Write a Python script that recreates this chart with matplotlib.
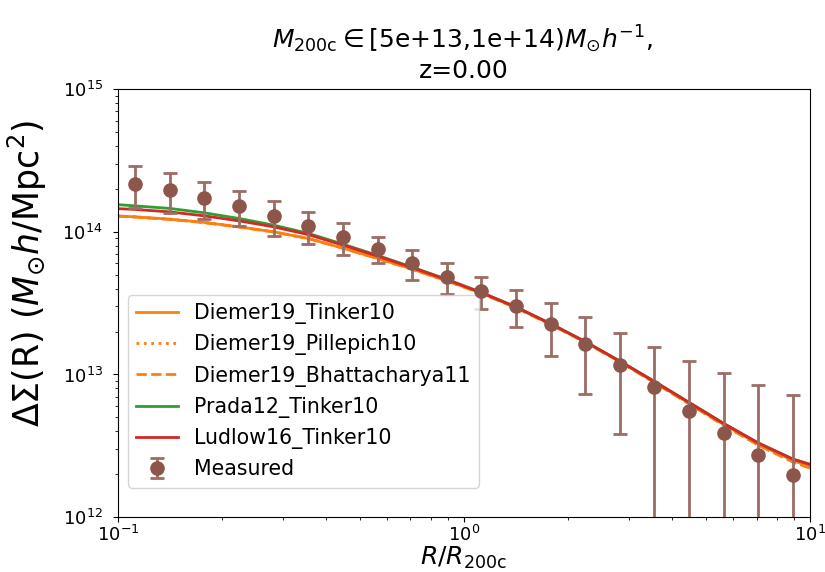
import matplotlib
matplotlib.use("Agg")
import matplotlib.pyplot as plt
import numpy as np

# radial bins, R / R200c
r_meas = [0.1122, 0.1413, 0.1778, 0.2239, 0.2818, 0.3548, 0.4467, 0.5623, 0.7079, 0.8913,
          1.122, 1.413, 1.778, 2.239, 2.818, 3.548, 4.467, 5.623, 7.079, 8.913]
ds_meas = [2.18e14, 1.96e14, 1.73e14, 1.52e14, 1.29e14, 1.10e14, 9.18e13, 7.57e13, 6.04e13, 4.84e13,
           3.87e13, 3.02e13, 2.25e13, 1.63e13, 1.17e13, 8.20e12, 5.57e12, 3.88e12, 2.74e12, 1.97e12]
ds_err = [7.0e13, 6.1e13, 4.9e13, 4.2e13, 3.5e13, 2.8e13, 2.3e13, 1.57e13, 1.41e13, 1.17e13,
          9.7e12, 8.8e12, 9.1e12, 9.0e12, 7.9e12, 7.4e12, 6.9e12, 6.4e12, 5.7e12, 5.2e12]

# model grid
r_model = [0.1, 0.1122, 0.1413, 0.1778, 0.2239, 0.2818, 0.3548, 0.4467, 0.5623, 0.7079, 0.8913,
           1.122, 1.413, 1.778, 2.239, 2.818, 3.548, 4.467, 5.623, 7.079, 8.913, 10.0]

ds_diemer_tinker = [1.292e14, 1.274e14, 1.227e14, 1.164e14, 1.084e14, 1.000e14, 8.99e13, 7.69e13,
                    6.52e13, 5.48e13, 4.55e13, 3.72e13, 2.95e13, 2.26e13, 1.69e13, 1.235e13,
                    8.85e12, 6.30e12, 4.46e12, 3.25e12, 2.49e12, 2.26e12]
ds_diemer_pillepich = [1.290e14, 1.272e14, 1.225e14, 1.162e14, 1.083e14, 0.999e14, 8.98e13, 7.68e13,
                       6.51e13, 5.47e13, 4.54e13, 3.71e13, 2.94e13, 2.25e13, 1.685e13, 1.23e13,
                       8.80e12, 6.26e12, 4.43e12, 3.22e12, 2.46e12, 2.23e12]
ds_diemer_bhatt = [1.288e14, 1.270e14, 1.223e14, 1.160e14, 1.081e14, 0.998e14, 8.97e13, 7.67e13,
                   6.50e13, 5.46e13, 4.53e13, 3.70e13, 2.93e13, 2.24e13, 1.68e13, 1.225e13,
                   8.76e12, 6.22e12, 4.40e12, 3.19e12, 2.43e12, 2.20e12]
ds_prada = [1.551e14, 1.521e14, 1.459e14, 1.359e14, 1.241e14, 1.114e14, 9.76e13, 8.20e13,
            6.84e13, 5.66e13, 4.65e13, 3.76e13, 2.97e13, 2.27e13, 1.70e13, 1.24e13,
            8.95e12, 6.38e12, 4.54e12, 3.31e12, 2.55e12, 2.34e12]
ds_ludlow = [1.454e14, 1.436e14, 1.380e14, 1.294e14, 1.194e14, 1.084e14, 9.56e13, 8.07e13,
             6.76e13, 5.61e13, 4.62e13, 3.75e13, 2.97e13, 2.27e13, 1.70e13, 1.24e13,
             8.92e12, 6.36e12, 4.53e12, 3.31e12, 2.55e12, 2.34e12]

fig = plt.figure(figsize=(8.25, 5.72), dpi=100)
ax = fig.add_axes([0.143, 0.096, 0.839, 0.748])

lw = 2.0
ax.plot(r_model, ds_diemer_tinker, color="tab:orange", ls="-", lw=lw, label="Diemer19_Tinker10")
ax.plot(r_model, ds_diemer_pillepich, color="tab:orange", ls=":", lw=lw, label="Diemer19_Pillepich10")
ax.plot(r_model, ds_diemer_bhatt, color="tab:orange", ls="--", lw=lw, label="Diemer19_Bhattacharya11")
ax.plot(r_model, ds_prada, color="tab:green", ls="-", lw=lw, label="Prada12_Tinker10")
ax.plot(r_model, ds_ludlow, color="tab:red", ls="-", lw=lw, label="Ludlow16_Tinker10")
ax.errorbar(r_meas, ds_meas, yerr=ds_err, fmt="o", color="tab:brown", ms=9.5,
            elinewidth=2, capsize=5, capthick=2, ecolor="#9b6d65", label="Measured", zorder=5)

ax.set_xscale("log")
ax.set_yscale("log")
ax.set_xlim(0.1, 10)
ax.set_ylim(1e12, 1e15)
ax.tick_params(labelsize=13)
ax.tick_params(axis="x", pad=2)
ax.tick_params(axis="y", pad=7.5)

ax.set_xlabel(r"$R/R_{\rm 200c}$", fontsize=18, labelpad=0)
ax.set_ylabel(r"$\Delta\Sigma(\rm R)$ $(M_{\odot}h/{\rm Mpc}^2)$", fontsize=25)
ax.yaxis.set_label_coords(-0.1, 0.57)
ax.set_title(r"$M_{\rm 200c}\in$[5e+13,1e+14)$M_{\odot}h^{-1}$, " + "\nz=0.00", fontsize=18, pad=8)

ax.legend(loc="lower left", bbox_to_anchor=(0, 0.045), fontsize=14.8)

fig.savefig("out.png", dpi=100)
